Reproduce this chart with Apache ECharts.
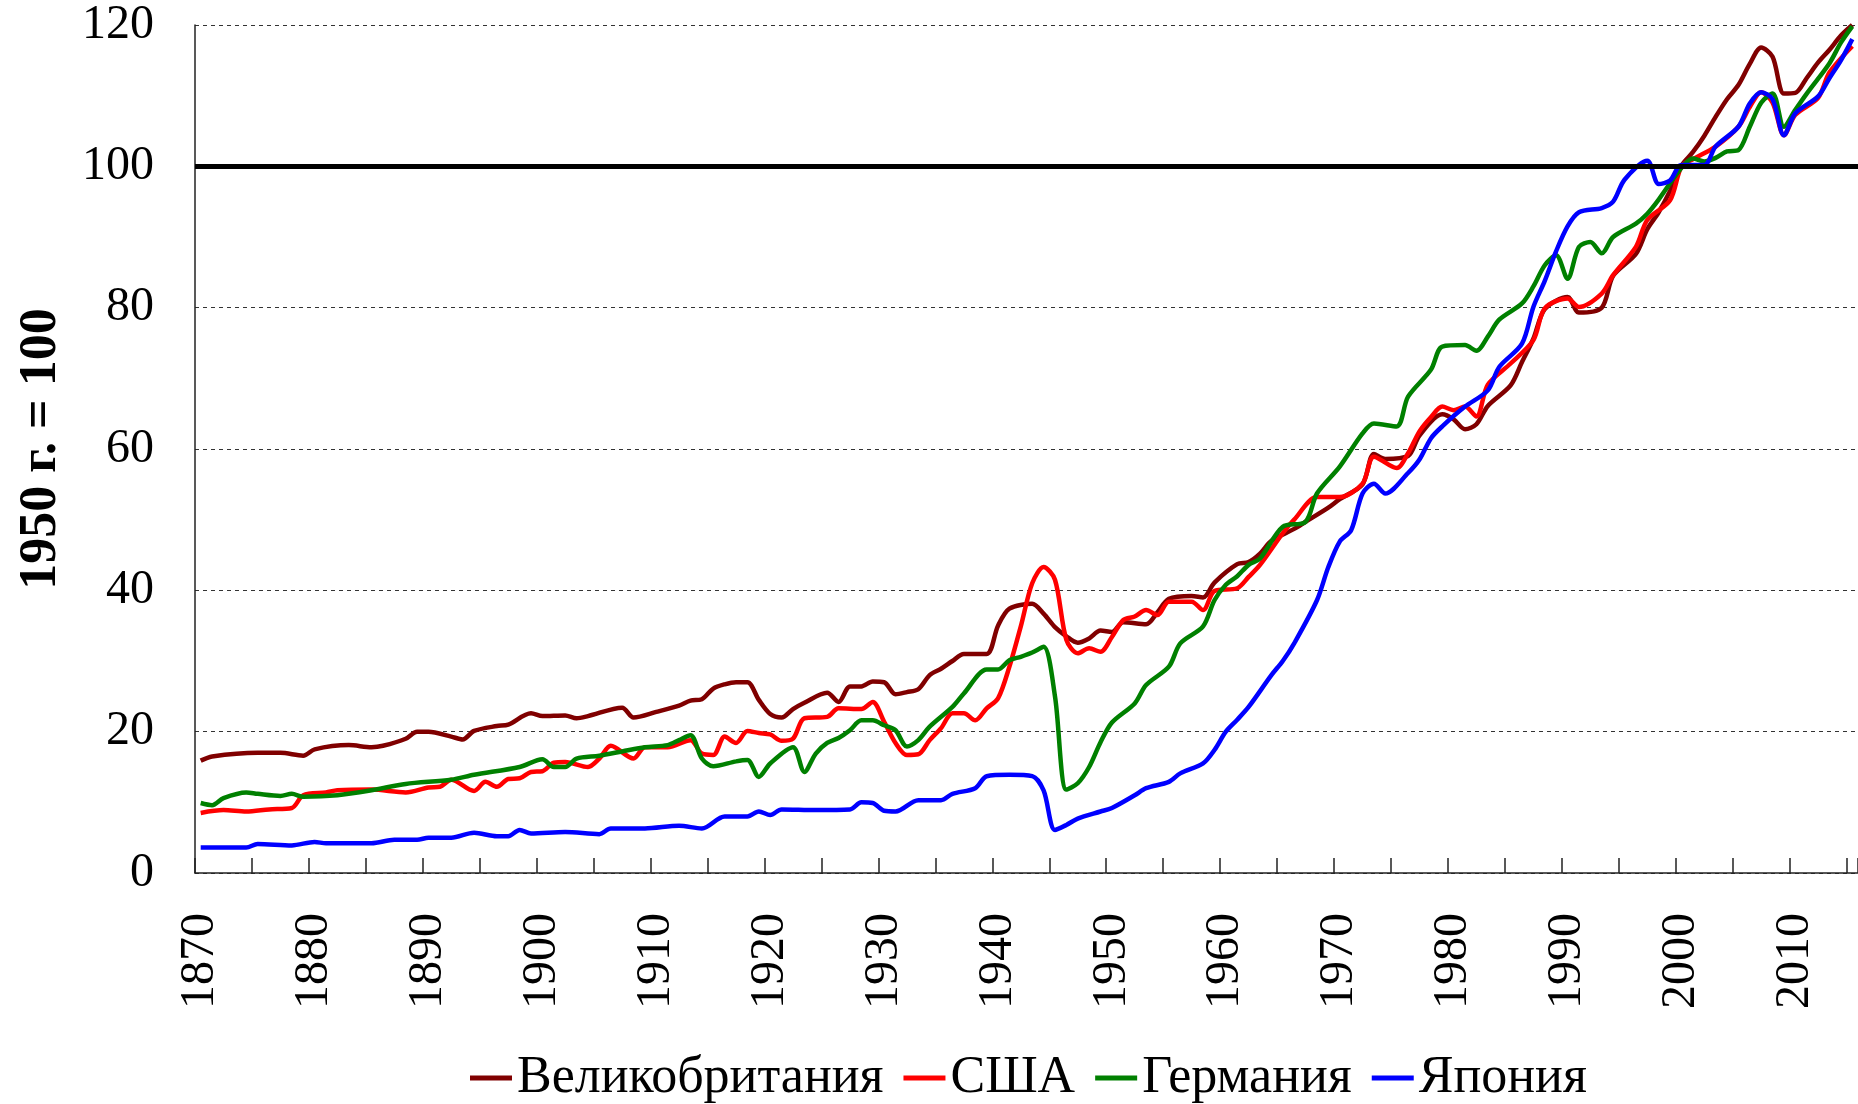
<!DOCTYPE html>
<html>
<head>
<meta charset="utf-8">
<title>ВВП на душу населения, 1950 г. = 100</title>
<script src="https://cdn.jsdelivr.net/npm/echarts@6/dist/echarts.min.js"></script>
<style>
    html, body { margin: 0; padding: 0; background: #fff; }
    #container { width: 1858px; height: 1104px; }
</style>
</head>
<body>
<div id="container"></div>
<script>
// годы оси X (категории) и подписи
var firstYear = 1870;
var lastYear = 2015;
var seriesNames = ['Великобритания', 'США', 'Германия', 'Япония'];
var seriesColors = ['#800000', '#ff0000', '#008000', '#0000ff'];

// Великобритания
var ukYears = [1870,1871,1875,1877,1879,1880,1883,1885,1886,1888,1889,1890,1892,1893,1894,1896,1897,1899,1900,1902,
    1903,1904,1907,1908,1910,1912,1913,1914,1915,1916,1917,1918,1919,1920,1921,1922,1923,1925,1926,1927,
    1928,1929,1930,1931,1932,1933,1934,1935,1936,1937,1939,1940,1941,1943,1944,1945,1946,1947,1948,1949,
    1950,1951,1953,1954,1955,1957,1958,1959,1961,1962,1963,1964,1966,1967,1969,1970,1972,1973,1974,1976,
    1977,1979,1980,1981,1982,1983,1985,1986,1987,1988,1990,1991,1993,1994,1996,1997,1998,1999,2000,2001,
    2002,2003,2004,2005,2006,2007,2008,2009,2010,2011,2012,2013,2014,2015];
var ukValues = [15.9,16.5,17.0,17.0,16.6,17.5,18.1,17.8,18.0,19.0,20.0,20.0,19.3,18.9,20.1,20.8,21.0,22.6,22.2,22.3,
    21.9,22.2,23.4,22.0,22.8,23.7,24.4,24.6,26.1,26.7,27.0,27.0,24.5,22.5,22.0,23.2,24.1,25.5,24.2,26.4,
    26.4,27.1,27.0,25.3,25.6,26.0,28.0,28.9,30.0,31.0,31.0,35.0,37.4,38.1,36.7,34.8,33.5,32.6,33.2,34.3,
    34.1,35.5,35.2,36.9,38.8,39.2,39.0,41.1,43.7,44.0,45.2,47.0,48.7,49.7,51.7,52.9,55.0,59.3,58.6,59.0,
    61.9,64.9,64.2,62.8,63.5,66.1,69.0,72.3,75.6,79.8,81.5,79.3,80.0,84.5,87.6,91.1,93.5,96.5,100.1,102.0,
    104.3,107.0,109.5,111.5,114.5,116.8,115.5,110.3,110.4,112.5,114.7,116.5,118.5,120.0];

// США
var usYears = [1870,1872,1874,1876,1878,1879,1881,1882,1885,1888,1890,1891,1892,1894,1895,1896,1897,1898,1899,1900,
    1901,1902,1904,1905,1906,1908,1909,1911,1913,1914,1915,1916,1917,1918,1919,1920,1921,1922,1923,1925,
    1926,1928,1929,1930,1931,1932,1933,1934,1935,1936,1937,1938,1939,1940,1941,1942,1943,1944,1945,1946,
    1947,1948,1949,1950,1951,1952,1953,1954,1955,1957,1958,1959,1961,1962,1963,1965,1966,1968,1970,1972,
    1973,1975,1976,1977,1978,1979,1980,1981,1982,1983,1985,1987,1988,1990,1991,1993,1994,1996,1997,1999,
    2000,2001,2003,2005,2006,2007,2008,2009,2010,2012,2013,2015];
var usValues = [8.5,8.9,8.7,9.0,9.2,11.0,11.4,11.7,11.8,11.4,12.1,12.2,13.2,11.6,12.9,12.2,13.3,13.4,14.3,14.4,
    15.6,15.7,15.0,16.2,18.0,16.2,17.8,17.8,18.8,16.9,16.7,19.3,18.4,20.1,19.8,19.6,18.7,19.0,21.9,22.1,
    23.3,23.2,24.2,21.4,18.4,16.7,16.8,18.8,20.5,22.6,22.6,21.6,23.3,24.7,29.2,34.9,41.0,43.3,41.5,33.0,
    31.1,31.8,31.3,33.4,35.8,36.3,37.2,36.5,38.4,38.4,37.2,39.9,40.3,41.9,43.6,48.1,50.0,53.2,53.2,55.1,
    58.9,57.3,59.4,62.5,64.5,66.0,65.5,66.0,64.6,69.1,72.1,75.4,79.9,81.3,80.1,82.0,84.6,88.6,92.4,95.2,
    100.0,101.0,102.8,105.6,108.4,110.5,109.0,104.4,107.3,109.7,113.3,117.0];

// Германия
var deYears = [1870,1871,1872,1874,1875,1877,1878,1879,1882,1885,1888,1892,1894,1898,1900,1901,1902,1903,1905,1907,
    1909,1911,1912,1913,1914,1915,1917,1918,1919,1920,1922,1923,1924,1925,1926,1927,1928,1929,1930,1931,
    1932,1933,1934,1936,1937,1939,1940,1941,1942,1943,1944,1945,1946,1947,1948,1949,1950,1952,1953,1955,
    1956,1958,1959,1960,1961,1962,1963,1965,1967,1968,1970,1972,1973,1975,1976,1978,1979,1981,1982,1983,
    1984,1986,1987,1988,1989,1990,1991,1992,1993,1994,1996,1997,1998,2000,2001,2002,2003,2004,2005,2006,
    2007,2008,2009,2010,2011,2013,2014,2015];
var deValues = [9.9,9.6,10.6,11.4,11.2,10.9,11.2,10.8,11.0,11.7,12.6,13.2,13.9,15.0,16.1,15.0,15.0,16.2,16.6,17.2,
    17.8,18.1,18.8,19.5,16.2,15.1,15.8,16.0,13.6,15.5,17.8,14.3,16.9,18.4,19.1,20.2,21.6,21.6,20.9,20.2,
    17.9,18.8,20.7,23.5,25.4,28.8,28.8,30.1,30.6,31.2,32.0,25.0,11.8,12.7,15.0,18.5,21.3,24.0,26.6,29.2,
    32.5,34.9,38.6,40.8,42.0,43.6,44.5,49.0,49.7,53.7,57.5,62.2,63.6,63.2,67.4,71.2,74.5,74.7,73.9,75.9,
    78.3,80.6,83.0,86.0,87.4,84.1,88.6,89.3,87.7,90.0,91.9,93.3,95.3,99.8,101.1,100.7,101.2,102.1,102.3,105.6,
    109.0,110.3,105.6,108.0,110.3,114.6,117.5,119.8];

// Япония
var jpYears = [1870,1874,1875,1878,1880,1881,1885,1887,1889,1890,1892,1894,1896,1897,1898,1899,1902,1905,1906,1909,
    1912,1914,1916,1918,1919,1920,1921,1924,1927,1928,1929,1930,1931,1933,1935,1936,1938,1939,1941,1943,
    1944,1945,1946,1947,1949,1950,1952,1953,1955,1956,1958,1959,1960,1961,1962,1964,1965,1966,1968,1969,
    1970,1971,1972,1973,1974,1976,1977,1978,1979,1981,1983,1984,1986,1987,1988,1989,1990,1991,1993,1994,
    1995,1997,1998,1999,2000,2002,2003,2005,2006,2007,2008,2009,2010,2012,2013,2014,2015];
var jpValues = [3.6,3.6,4.1,3.9,4.4,4.2,4.2,4.7,4.7,5.0,5.0,5.7,5.2,5.2,6.1,5.6,5.8,5.5,6.3,6.3,
    6.7,6.3,8.0,8.0,8.7,8.2,9.0,8.9,9.0,10.0,9.9,8.8,8.7,10.3,10.3,11.2,12.0,13.7,13.9,13.7,
    11.7,6.1,6.8,7.7,8.7,9.2,11.0,12.0,12.9,14.1,15.5,17.4,20.0,21.7,23.5,28.0,30.0,32.5,38.6,43.3,
    46.9,48.5,53.7,55.1,53.7,56.6,58.5,61.5,63.2,66.0,68.3,71.6,74.9,80.1,83.8,88.0,91.5,93.5,94.1,95.0,
    98.1,100.8,97.5,98.0,100.2,100.2,102.8,105.6,108.9,110.5,109.5,104.4,107.5,109.9,112.5,115.0,118.0];

var yTicks = {min: 0, max: 120, interval: 20};

var categories = [];
for (var y = firstYear; y <= lastYear; y++) {
    categories.push(String(y));
}

function pairs(years, values) {
    var out = [];
    for (var i = 0; i < years.length; i++) {
        out.push([years[i], values[i]]);
    }
    return out;
}

var seriesData = [
    pairs(ukYears, ukValues),
    pairs(usYears, usValues),
    pairs(deYears, deValues),
    pairs(jpYears, jpValues)
];

var font = 'Liberation Serif, Times New Roman, serif';

var series = [];
for (var i = 0; i < seriesNames.length; i++) {
    series.push({
        name: seriesNames[i],
        type: 'line',
        xAxisIndex: 1,
        data: seriesData[i],
        smooth: 0.3,
        showSymbol: false,
        lineStyle: {color: seriesColors[i], width: 4.5},
        itemStyle: {color: seriesColors[i]}
    });
}
// жирная линия на уровне 1950 г. = 100
series[0].markLine = {
    silent: true,
    symbol: 'none',
    label: {show: false},
    lineStyle: {color: '#000', width: 5, type: 'solid'},
    data: [{yAxis: 100}]
};

var option = {
    animation: false,
    backgroundColor: '#fff',
    textStyle: {fontFamily: font},
    grid: {left: 195, right: -2, top: 25, bottom: 231},
    legend: {
        data: seriesNames,
        left: 470,
        top: 1052,
        icon: 'rect',
        itemWidth: 42,
        itemHeight: 5,
        itemGap: 20,
        selectedMode: false,
        padding: 0,
        textStyle: {fontFamily: font, fontSize: 52, color: '#000', padding: [0, 0, 0, 0]}
    },
    xAxis: [{
        type: 'category',
        data: categories,
        boundaryGap: true,
        axisLine: {lineStyle: {color: '#222', width: 1.5}},
        axisTick: {show: true, inside: true, length: 15, interval: 4, lineStyle: {color: '#222', width: 1.5}},
        axisLabel: {interval: 9, rotate: 90, margin: 40, fontFamily: font, fontSize: 48, color: '#000'},
        splitLine: {show: false}
    }, {
        type: 'value',
        min: firstYear - 0.5,
        max: lastYear + 0.5,
        show: false
    }],
    yAxis: {
        type: 'value',
        min: yTicks.min,
        max: yTicks.max,
        interval: yTicks.interval,
        name: '1950 г. = 100',
        nameLocation: 'middle',
        nameGap: 127,
        nameTextStyle: {fontFamily: font, fontSize: 52, fontWeight: 'bold', color: '#000'},
        axisLine: {show: true, lineStyle: {color: '#222', width: 1.5}},
        axisTick: {show: false},
        axisLabel: {margin: 41, fontFamily: font, fontSize: 48, color: '#000', padding: [14, 0, 0, 0]},
        splitLine: {show: true, lineStyle: {color: '#333', width: 1, type: [4, 4]}}
    },
    series: series
};

var myChart = echarts.init(document.getElementById('container'));
myChart.setOption(option);
</script>
</body>
</html>
